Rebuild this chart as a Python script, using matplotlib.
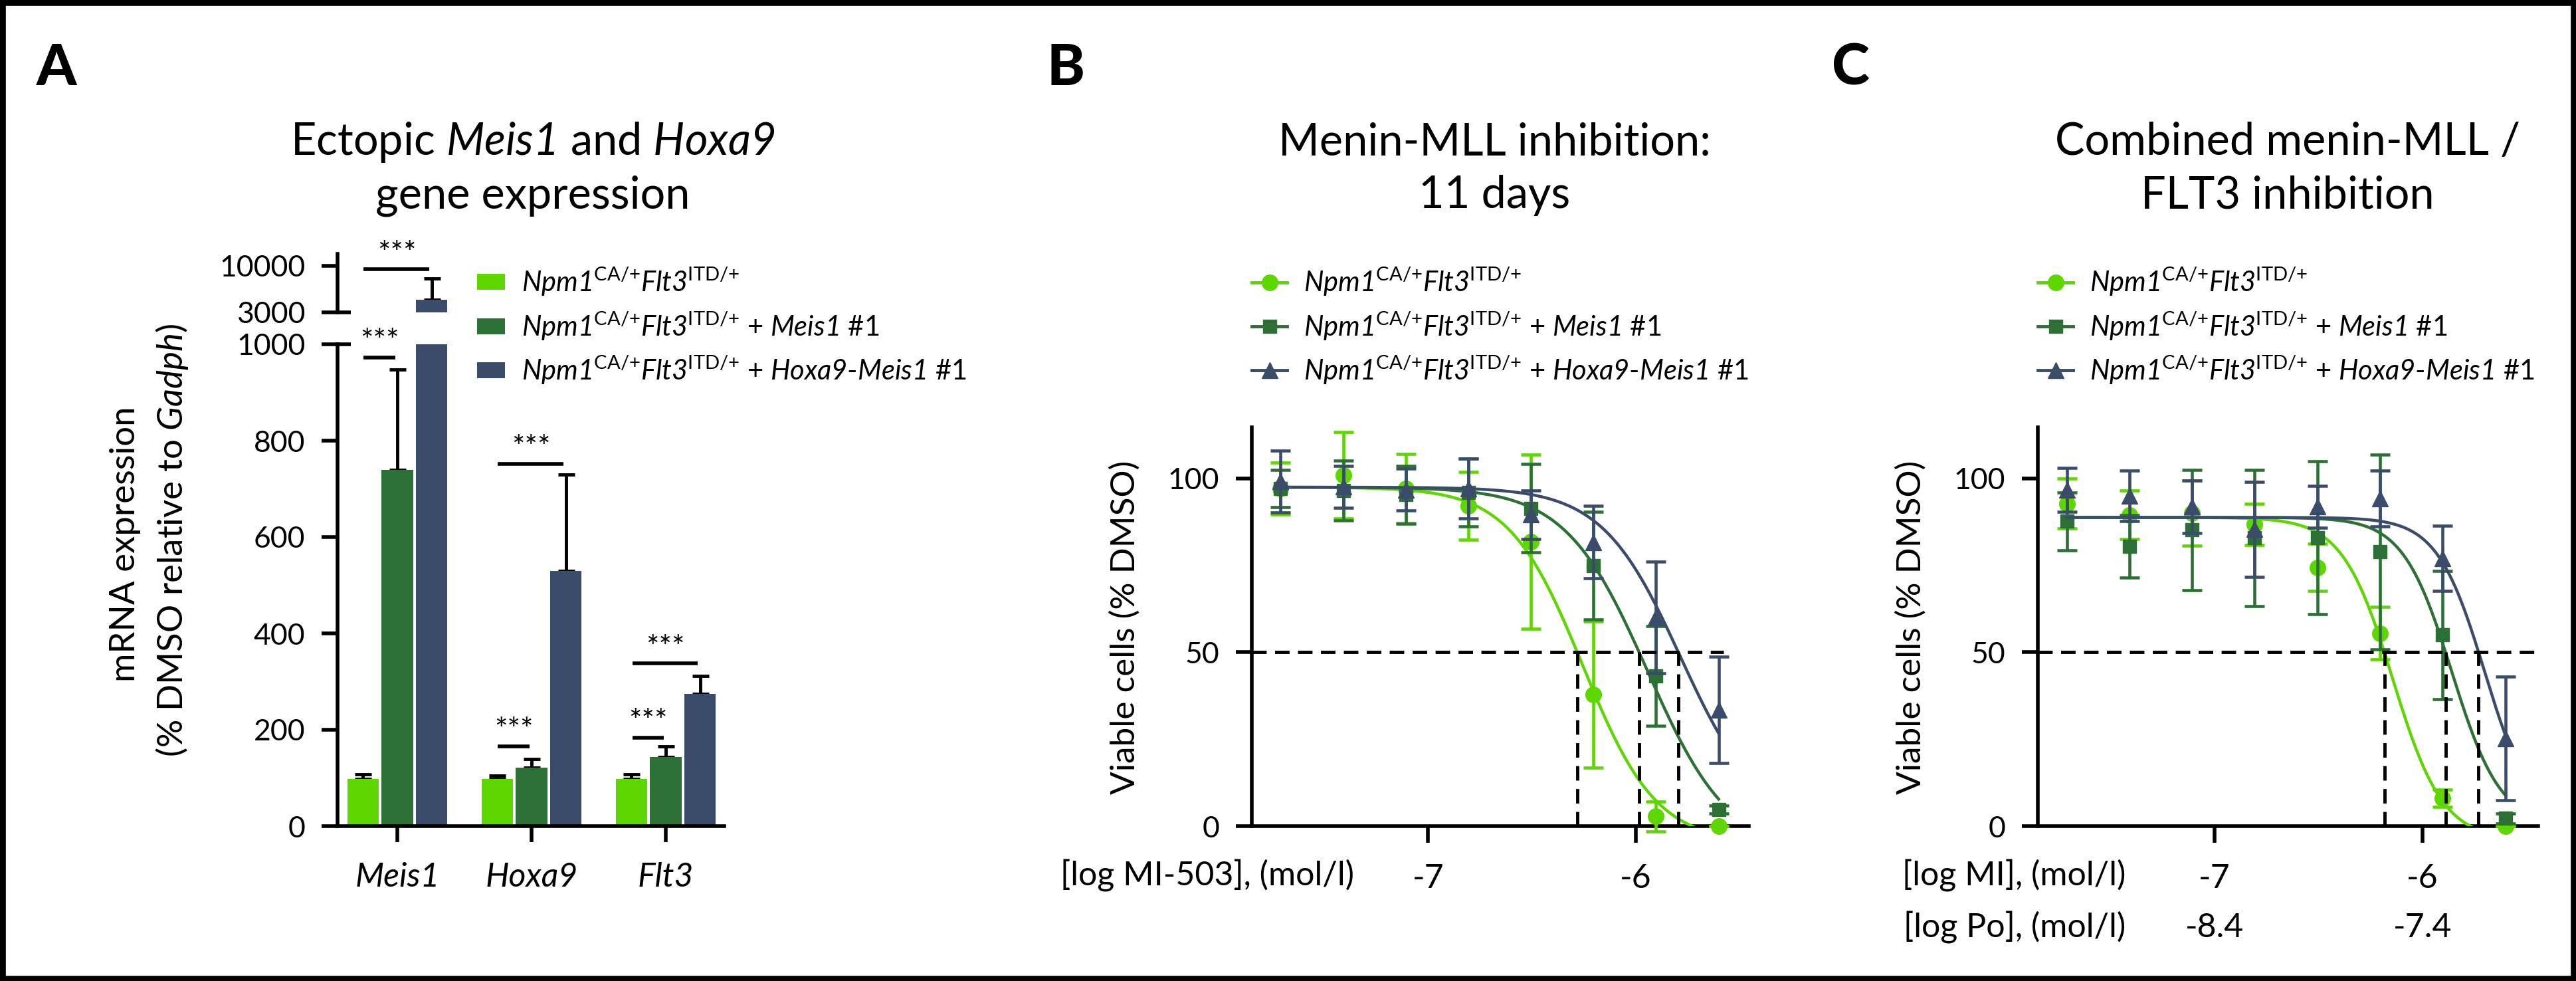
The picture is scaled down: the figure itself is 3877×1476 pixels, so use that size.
import numpy as np
import matplotlib
matplotlib.use('Agg')
import matplotlib.pyplot as plt
from matplotlib import font_manager, transforms
from matplotlib.lines import Line2D
from matplotlib.patches import Rectangle

# ---- data ----
genes = ['Meis1', 'Hoxa9', 'Flt3']
expr_wt = [98, 98, 98]
expr_wt_err = [10, 7, 9]
expr_meis = [740, 122, 144]
expr_meis_err = [208, 18, 21]
expr_hm = [4870, 529, 274]
expr_hm_err = [3260, 201, 38]
# (gene, bar from, bar to, height)
sig_pairs = [(0, 0, 1, 973), (0, 0, 2, 9500), (1, 0, 1, 166),
             (1, 0, 2, 752), (2, 0, 1, 184), (2, 0, 2, 338)]

log_conc = [-7.709, -7.408, -7.107, -6.806, -6.505, -6.204, -5.903, -5.602]

b_wt = [97.1, 100.9, 97.1, 92.1, 81.8, 37.9, 2.8, 0.0]
b_wt_err = [7.5, 12.4, 10.0, 9.8, 25.0, 21.0, 4.3, 0.0]
b_meis = [97.1, 96.6, 95.3, 96.0, 91.4, 75.0, 43.2, 4.8]
b_meis_err = [5.4, 8.6, 8.3, 9.7, 12.7, 15.5, 14.4, 1.2]
b_hm = [99.2, 97.6, 96.8, 97.1, 89.6, 81.7, 60.0, 33.4]
b_hm_err = [8.9, 6.0, 6.0, 8.6, 7.0, 10.4, 16.0, 15.3]

c_wt = [92.8, 89.5, 90.1, 86.8, 74.4, 55.5, 8.1, 0.0]
c_wt_err = [7.2, 7.0, 9.4, 6.0, 6.8, 7.6, 2.5, 0.0]
c_meis = [87.7, 80.5, 85.2, 82.9, 82.9, 78.9, 55.0, 2.2]
c_meis_err = [8.3, 9.0, 17.3, 19.6, 22.0, 28.0, 18.5, 1.5]
c_hm = [96.8, 95.0, 91.9, 85.4, 91.9, 94.2, 77.1, 25.2]
c_hm_err = [6.3, 7.2, 7.5, 13.7, 6.0, 8.0, 9.4, 17.8]

# dose-response fits: top, bottom, logIC50, hill
b_fits = [(97.5, -5, -6.256, 2.45), (97.5, -8, -5.945, 2.2), (97.5, 0, -5.786, 2.3)]
c_fits = [(88.8, -4, -6.143, 3.6), (88.8, 0, -5.859, 3.7), (88.8, 0, -5.701, 3.8)]
b_ic50 = [-6.282, -5.984, -5.796]
c_ic50 = [-6.183, -5.889, -5.730]

po_ticks = ['-8.4', '-7.4']

# ---- style ----
names = {f.name for f in font_manager.fontManager.ttflist}
base = 'Lato' if 'Lato' in names else 'DejaVu Sans'
plt.rcParams['font.family'] = [base, 'DejaVu Sans']
plt.rcParams['mathtext.fontset'] = 'custom'
plt.rcParams['mathtext.rm'] = base
plt.rcParams['mathtext.it'] = base + ':italic'
plt.rcParams['mathtext.sf'] = base + ':italic'   # italic incl. digits
plt.rcParams['mathtext.bf'] = base + ':bold'

colors = ['#5ED600', '#2C7036', '#3B4C6B']
markers = ['o', 's', '^']
msizes = [17, 14, 17]
W, H = 3877, 1476


def fx(px):
    return px / W


def fy(py):
    return 1 - py / H


def style(ax, xlen=17, xsize=33):
    for s in ['top', 'right']:
        ax.spines[s].set_visible(False)
    for s in ['left', 'bottom']:
        ax.spines[s].set_linewidth(4)
    ax.tick_params(axis='y', width=4, length=17, labelsize=32, pad=18)
    ax.tick_params(axis='x', width=4, length=xlen, labelsize=xsize, pad=22)


lab1 = r'$\mathsf{Npm1}^{\mathrm{CA/{+}}}\mathsf{Flt3}^{\mathrm{ITD/{+}}}$'
labels = [lab1, lab1 + r' + $\mathsf{Meis1}$ #1',
          lab1 + r' + $\mathsf{Hoxa9}$-$\mathsf{Meis1}$ #1']

fig = plt.figure(figsize=(W / 100, H / 100), dpi=100)

# ---- panel A: broken y axis ----
axA = fig.add_axes([fx(508), fy(1243), fx(1090) - fx(508), fy(518) - fy(1243)])
axT = fig.add_axes([fx(508), fy(470), fx(1090) - fx(508), fy(382) - fy(470)])
axT.patch.set_visible(False)
offsets = [-0.255, 0, 0.255]
x = np.arange(len(genes))
series = [(expr_wt, expr_wt_err), (expr_meis, expr_meis_err), (expr_hm, expr_hm_err)]
bars = []
for ax in (axA, axT):
    for i, (v, e) in enumerate(series):
        b = ax.bar(x + offsets[i], v, 0.237, color=colors[i], zorder=2)
        ax.errorbar(x + offsets[i], v, yerr=[np.zeros(len(v)), e], fmt='none',
                    ecolor='black', elinewidth=3.5, capsize=9, capthick=3.5, zorder=1)
        if ax is axA:
            bars.append(b)
    ax.set_xlim(-0.4455, 2.4356)
    style(ax)

axA.set_ylim(0, 1000)
axA.set_yticks([0, 200, 400, 600, 800, 1000])
axA.set_xticks(x, genes, fontstyle='italic', fontsize=36)
axT.set_ylim(3000, 11800)
axT.set_yticks([3000, 10000], ['3000', '10000'])
axT.spines['bottom'].set_visible(False)
axT.set_xticks([])
# axis break marks
for ax, yv in ((axA, 1000), (axT, 3000)):
    tr = transforms.blended_transform_factory(ax.transAxes, ax.transData)
    ax.plot([0, 0.035], [yv, yv], color='black', lw=4, transform=tr, clip_on=False,
            solid_capstyle='butt')

for g, i, j, yv in sig_pairs:
    ax = axT if yv > 1000 else axA
    x0 = g + offsets[i] + 0.005
    x1 = g + offsets[j] - 0.015
    ax.plot([x0, x1], [yv, yv], color='black', lw=4, solid_capstyle='butt', clip_on=False)
    ax.annotate('***', ((x0 + x1) / 2, yv), xytext=(0, 1), textcoords='offset points',
                ha='center', va='bottom', fontsize=33, annotation_clip=False)

fig.legend(bars, labels, loc='upper left', bbox_to_anchor=(fx(718), fy(400)),
           frameon=False, fontsize=30,
           handlelength=1.0, handleheight=0.5, handletextpad=0.6,
           labelspacing=0.44, borderpad=0, borderaxespad=0)

fig.text(fx(188), fy(819), 'mRNA expression', rotation=90, ha='center',
         va='center', fontsize=38)
fig.text(fx(259), fy(813), r'(% DMSO relative to $\mathsf{Gadph}$)',
         rotation=90, ha='center', va='center', fontsize=38)
fig.text(fx(802), fy(233), r'Ectopic $\mathsf{Meis1}$ and $\mathsf{Hoxa9}$',
         ha='center', va='baseline', fontsize=48)
fig.text(fx(802), fy(313), 'gene expression', ha='center', va='baseline', fontsize=48)


# ---- panels B and C ----
def dose_panel(left, right, xmax, means, errs, fits, ic50, hline_end):
    ax = fig.add_axes([fx(left), fy(1243), fx(right) - fx(left), fy(643) - fy(1243)])
    style(ax, xlen=18, xsize=36)
    xs = np.linspace(log_conc[0], log_conc[-1], 300)
    for k in [2, 1, 0]:
        ax.errorbar(log_conc, means[k], yerr=errs[k], fmt=markers[k], color=colors[k],
                    ms=msizes[k], elinewidth=3.3, capsize=11, capthick=3.3,
                    clip_on=False, zorder=3 + k)
        top, bot, mid, hill = fits[k]
        ax.plot(xs, bot + (top - bot) / (1 + 10 ** ((xs - mid) * hill)),
                color=colors[k], lw=3.2, zorder=3 + k)
    handles = [Line2D([], [], color=colors[k], marker=markers[k], ms=msizes[k], lw=3.5)
               for k in range(3)]
    ax.set_xlim(-7.848, xmax)
    ax.set_ylim(0, 114.7)
    ax.plot([-7.848, hline_end], [50, 50], color='black', lw=3.5,
            ls=(0, (4.5, 2.6)), zorder=8, clip_on=False)
    for v in ic50:
        ax.plot([v, v], [0, 50], color='black', lw=3.5, ls=(0, (4.5, 2.6)), zorder=8)
    ax.set_yticks([0, 50, 100])
    ax.set_xticks([-7, -6], ['-7', '-6'])
    ax.legend(handles, labels, loc='upper left', bbox_to_anchor=(fx(left), fy(400)),
              bbox_transform=fig.transFigure, frameon=False, fontsize=30,
              handlelength=1.28, handletextpad=0.6, labelspacing=0.44,
              borderpad=0, borderaxespad=0)
    fig.text(fx(left - 191), fy(944), 'Viable cells (% DMSO)', rotation=90,
             ha='center', va='center', fontsize=37)
    return ax


axB = dose_panel(1884, 2632, -5.4569,
                 [b_wt, b_meis, b_hm], [b_wt_err, b_meis_err, b_hm_err],
                 b_fits, b_ic50, -5.577)
axC = dose_panel(3067, 3820, -5.444,
                 [c_wt, c_meis, c_hm], [c_wt_err, c_meis_err, c_hm_err],
                 c_fits, c_ic50, -5.444)

fig.text(fx(2038), fy(1333), '[log MI-503], (mol/l)', ha='right', va='baseline', fontsize=36)
fig.text(fx(3199), fy(1333), '[log MI], (mol/l)', ha='right', va='baseline', fontsize=36)
fig.text(fx(3199), fy(1410), '[log Po], (mol/l)', ha='right', va='baseline', fontsize=36)
trC = transforms.blended_transform_factory(axC.transData, fig.transFigure)
for xv, t in zip([-7, -6], po_ticks):
    axC.text(xv, fy(1410), t, transform=trC, ha='center', va='baseline', fontsize=36)

fig.text(fx(2249), fy(233), 'Menin-MLL inhibition:', ha='center', va='baseline', fontsize=48)
fig.text(fx(2249), fy(313), '11 days', ha='center', va='baseline', fontsize=48)
fig.text(fx(3443), fy(233), 'Combined menin-MLL /', ha='center', va='baseline', fontsize=48)
fig.text(fx(3443), fy(313), 'FLT3 inhibition', ha='center', va='baseline', fontsize=48)

for px, letter in [(55, 'A'), (1576, 'B'), (2757, 'C')]:
    fig.text(fx(px), fy(128), letter, ha='left', va='baseline', fontsize=62, fontweight='black')

# black frame round the whole figure
fig.patches.append(Rectangle((0, 0), 1, 1, transform=fig.transFigure, fill=False,
                             lw=12, edgecolor='black'))

fig.savefig('out.png', dpi=100)
